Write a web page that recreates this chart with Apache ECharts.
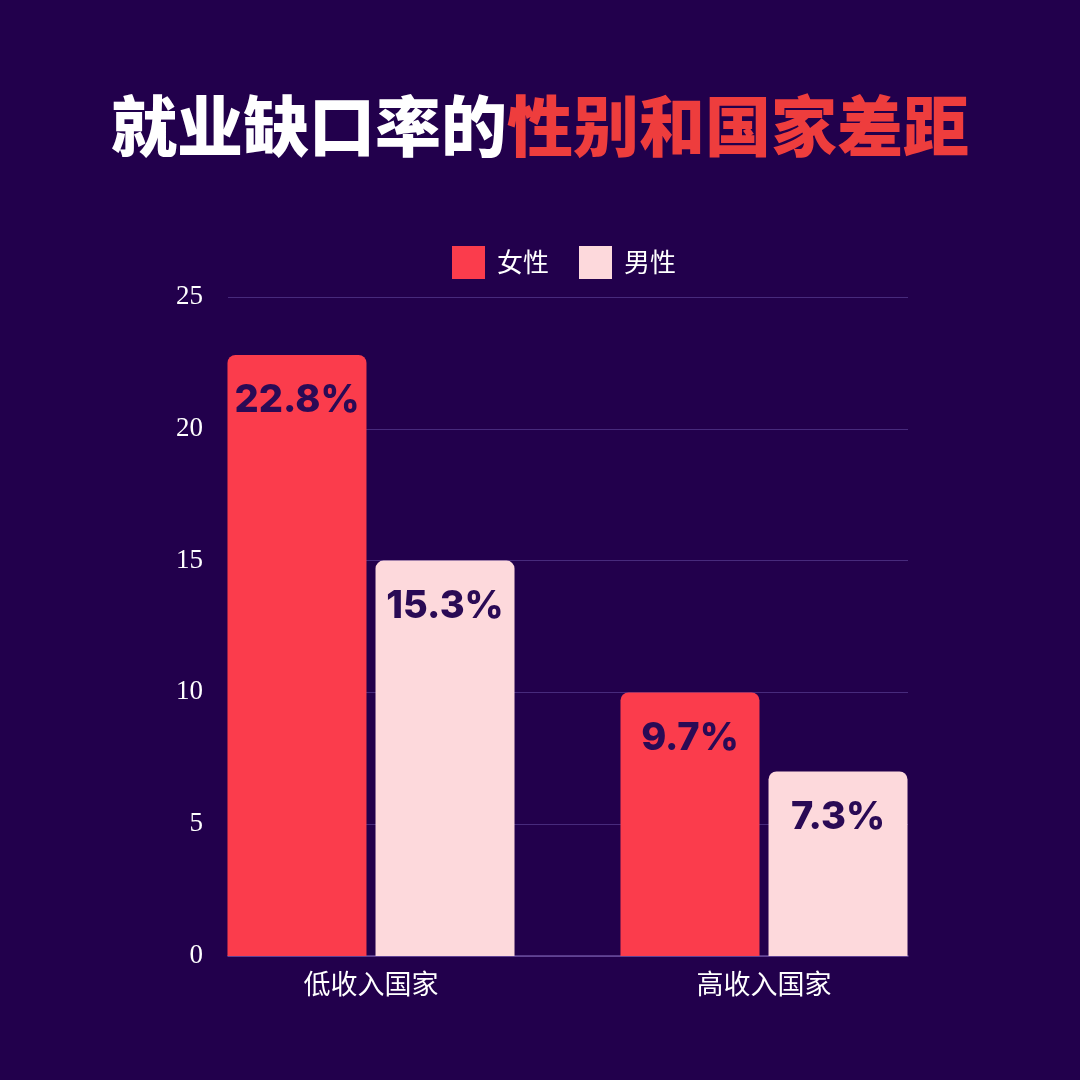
<!DOCTYPE html>
<html><head><meta charset="utf-8">
<script src="https://cdn.jsdelivr.net/npm/echarts@6/dist/echarts.min.js"></script>
<style>html,body{margin:0;padding:0;background:#22004c;}#c{width:1080px;height:1080px;}</style>
</head><body><div id="c"></div>
<script>
const categories = ['低收入国家', '高收入国家'];
const seriesNames = ['女性', '男性'];
const femaleValues = [22.8, 10.0];
const maleValues = [15.0, 7.0];
const femaleLabels = ['22.8%', '9.7%'];
const maleLabels = ['15.3%', '7.3%'];
const yTicks = [0, 5, 10, 15, 20, 25];

const BG = '#22004c';
const RED = '#fb3c4c';
const PINK = '#fdd9dc';
const LABEL = '#2a0a55';

const chart = echarts.init(document.getElementById('c'), null, {renderer: 'canvas'});
const labelStyle = (arr) => ({
  show: true, position: 'insideTop', distance: 27,
  formatter: p => arr[p.dataIndex],
  color: LABEL, fontSize: 38, fontWeight: 800, fontFamily: 'Inter'
});
chart.setOption({
  backgroundColor: BG,
  animation: false,
  title: {
    text: '{a|就业缺口率的}{b|性别和国家差距}',
    left: 'center', top: 88,
    textStyle: {
      rich: {
        a: {color: '#ffffff', fontSize: 66, fontWeight: 900, fontFamily: 'Noto Sans CJK SC'},
        b: {color: '#ee3d3d', fontSize: 66, fontWeight: 900, fontFamily: 'Noto Sans CJK SC'}
      }
    }
  },
  legend: {
    data: seriesNames, left: 447, top: 241,
    itemWidth: 33, itemHeight: 33, itemGap: 30, icon: 'rect',
    textStyle: {color: '#ffffff', fontSize: 26, fontFamily: 'Noto Sans CJK SC', padding: [0,0,0,7]}
  },
  grid: [
    {left: 228, right: 172, top: 297, bottom: 124},
    {left: 174.5, width: 786, top: 297, bottom: 124}
  ],
  xAxis: [
    {gridIndex: 0, type: 'category', data: categories, axisLabel: {show: false}, axisTick: {show: false},
     axisLine: {show: true, lineStyle: {color: '#6a4c9c', width: 1.5}}},
    {gridIndex: 1, type: 'category', data: categories, axisTick: {show: false}, axisLine: {show: false},
     axisLabel: {color: '#ffffff', fontSize: 27, fontFamily: 'Noto Sans CJK SC', margin: 14}}
  ],
  yAxis: [
    {gridIndex: 0, type: 'value', min: yTicks[0], max: yTicks[yTicks.length-1], interval: 5,
     axisLine: {show: false}, axisTick: {show: false},
     axisLabel: {color: '#ffffff', fontSize: 27, fontFamily: 'Liberation Serif', margin: 25},
     splitLine: {lineStyle: {color: '#472a7c', width: 1}}},
    {gridIndex: 1, type: 'value', min: yTicks[0], max: yTicks[yTicks.length-1], interval: 5, show: false,
     splitLine: {show: false}}
  ],
  series: [
    {name: seriesNames[0], type: 'bar', xAxisIndex: 1, yAxisIndex: 1, data: femaleValues,
     barWidth: 139, barGap: '6.5%', itemStyle: {color: RED, borderRadius: [8,8,0,0]},
     label: labelStyle(femaleLabels)},
    {name: seriesNames[1], type: 'bar', xAxisIndex: 1, yAxisIndex: 1, data: maleValues,
     barWidth: 139, itemStyle: {color: PINK, borderRadius: [8,8,0,0]},
     label: labelStyle(maleLabels)}
  ]
});
</script></body></html>
